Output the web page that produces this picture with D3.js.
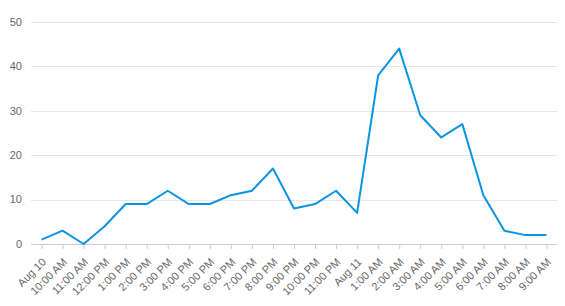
<!DOCTYPE html>
<html><head><meta charset="utf-8">
<script src="https://cdn.jsdelivr.net/npm/d3@7"></script>
<style>body{margin:0;background:#fff;}svg{display:block;font-family:"Liberation Sans",Arial,sans-serif;}</style>
</head><body><svg id="c" width="565" height="306"></svg>
<script>
const categories = ["Aug 10","10:00 AM","11:00 AM","12:00 PM","1:00 PM","2:00 PM","3:00 PM","4:00 PM","5:00 PM","6:00 PM","7:00 PM","8:00 PM","9:00 PM","10:00 PM","11:00 PM","Aug 11","1:00 AM","2:00 AM","3:00 AM","4:00 AM","5:00 AM","6:00 AM","7:00 AM","8:00 AM","9:00 AM"];
const values = [1,3,0,4,9,9,12,9,9,11,12,17,8,9,12,7,38,44,29,24,27,11,3,2,2];
const yTicks = [0,10,20,30,40,50];

(function(){
const svg = d3.select("#c");
const pl = 31, pr = 557, pt = 22, pb = 244;
const x = d3.scalePoint().domain(categories).range([pl, pr]).padding(0.5);
const y = d3.scaleLinear().domain([0,50]).range([pb, pt]);

svg.append("g").selectAll("line").data(yTicks.filter(d=>d>0)).join("line")
  .attr("x1", pl).attr("x2", pr).attr("y1", d=>Math.round(y(d))+0.5).attr("y2", d=>Math.round(y(d))+0.5)
  .attr("stroke", "#e6e6e6").attr("stroke-width", 1);

svg.append("g").selectAll("text").data(yTicks).join("text")
  .attr("x", 22).attr("y", d=>y(d)).attr("dy","0.35em").attr("text-anchor","end")
  .attr("font-size", 11).attr("fill", "#666").text(d=>d);

const xAxis = d3.axisBottom(x).tickSize(5).tickSizeOuter(0);
const gx = svg.append("g").attr("transform", `translate(0,${pb})`).call(xAxis);
gx.select(".domain").attr("stroke","#ccc").attr("d", `M${pl},0.5H${pr}`);
gx.selectAll(".tick line").attr("stroke","#ccc");
gx.selectAll(".tick text")
  .attr("font-size", 11).attr("fill","#666").attr("font-family","Liberation Sans, Arial, sans-serif")
  .attr("text-anchor","end").attr("y",0).attr("dy","0.35em")
  .attr("transform","translate(2,16) rotate(-45)");

const line = d3.line().x((d,i)=>x(categories[i])).y(d=>y(d));
svg.append("path").datum(values).attr("d", line)
  .attr("fill","none").attr("stroke","#0a94e3").attr("stroke-width",2).attr("stroke-linejoin","round");
})();
</script></body></html>
